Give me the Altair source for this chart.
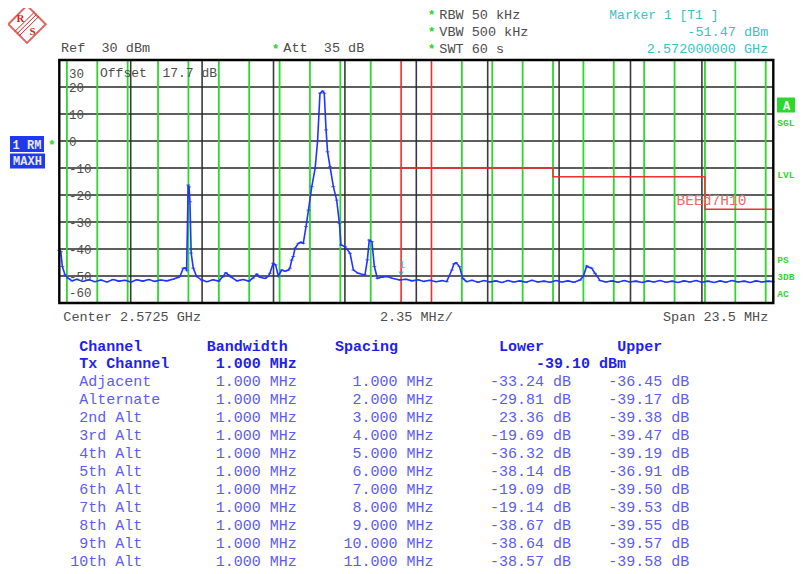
import altair as alt
import pandas as pd

MONO = "Liberation Mono"

# ---------------- data ----------------
trace_mhz = [-11.75, -11.70, -11.65, -11.56, -11.45, -11.33, -11.17, -10.97, -10.77, -10.58,
             -10.38, -10.18, -9.98, -9.79, -9.59, -9.39, -9.20, -9.00, -8.80, -8.61,
             -8.41, -8.21, -8.01, -7.85, -7.78, -7.67, -7.60, -7.56, -7.53, -7.51,
             -7.48, -7.45, -7.41, -7.34, -7.23, -7.06, -6.89, -6.69, -6.50, -6.38,
             -6.27, -6.18, -6.08, -5.90, -5.70, -5.51, -5.38, -5.25, -5.14, -4.98,
             -4.88, -4.82, -4.71, -4.63, -4.54, -4.43, -4.32, -4.21, -4.16, -4.10,
             -4.05, -3.99, -3.88, -3.80, -3.72, -3.63, -3.55, -3.44, -3.33, -3.25,
             -3.17, -3.08, -3.03, -2.97, -2.92, -2.84, -2.73, -2.62, -2.53, -2.48,
             -2.35, -2.18, -2.07, -1.91, -1.69, -1.61, -1.55, -1.46, -1.38, -1.28,
             -1.13, -0.97, -0.76, -0.54, -0.34, -0.14, 0.06, 0.25, 0.45, 0.65,
             0.85, 1.00, 1.17, 1.24, 1.31, 1.42, 1.53, 1.66, 1.83, 2.03,
             2.23, 2.42, 2.62, 2.82, 3.02, 3.21, 3.41, 3.61, 3.81, 4.00,
             4.20, 4.40, 4.60, 4.79, 4.99, 5.19, 5.39, 5.50, 5.61, 5.69,
             5.77, 5.88, 6.05, 6.24, 6.44, 6.64, 6.84, 7.03, 7.23, 7.43,
             7.63, 7.82, 8.02, 8.22, 8.42, 8.61, 8.81, 9.01, 9.21, 9.40,
             9.60, 9.80, 10.00, 10.19, 10.39, 10.59, 10.79, 10.99, 11.18, 11.38,
             11.58, 11.74]
trace_db = [-40.5, -41.0, -46.5, -49.6, -50.9, -51.8, -51.2, -52.0, -51.4, -52.1,
            -51.5, -52.2, -51.3, -51.9, -51.6, -52.2, -51.4, -51.9, -51.3, -52.0,
            -51.5, -51.8, -51.2, -50.6, -50.2, -47.1, -47.0, -47.8, -30.0, -16.3,
            -17.0, -22.5, -41.5, -47.1, -50.2, -51.5, -52.1, -51.4, -51.9, -50.4,
            -48.8, -49.6, -50.5, -51.8, -51.3, -51.9, -50.8, -49.3, -50.5, -50.9,
            -50.2, -49.0, -45.3, -45.9, -50.0, -47.8, -48.2, -47.8, -47.1, -44.1,
            -42.8, -39.7, -37.9, -37.5, -37.9, -31.7, -25.6, -16.9, -10.1, -0.1,
            17.7, 18.5, 17.7, 4.1, -4.0, -9.5, -16.9, -21.9, -30.5, -38.5,
            -39.1, -41.6, -47.8, -49.0, -49.6, -44.0, -36.7, -37.3, -46.5, -50.9,
            -50.4, -50.2, -50.9, -51.5, -51.2, -51.8, -51.4, -52.0, -51.6, -52.1,
            -51.7, -52.1, -47.8, -45.5, -45.1, -46.5, -50.9, -52.1, -51.6, -52.3,
            -51.7, -52.2, -51.8, -52.4, -51.7, -52.2, -51.8, -52.3, -51.6, -52.2,
            -51.9, -52.3, -51.7, -52.2, -51.8, -52.3, -51.5, -50.0, -46.3, -46.8,
            -47.1, -49.0, -51.7, -52.2, -51.8, -52.3, -51.7, -52.2, -51.9, -52.4,
            -51.8, -52.2, -51.7, -52.3, -51.9, -52.4, -51.8, -52.2, -51.7, -52.3,
            -51.9, -52.4, -51.8, -52.3, -51.7, -52.2, -51.9, -52.4, -51.8, -52.2,
            -51.9, -52.1]

grid_mhz = [-9.4, -7.05, -4.7, -2.35, 0.0, 2.35, 4.7, 7.05, 9.4]
grid_db = [20, 10, 0, -10, -20, -30, -40, -50]
channel_edges_mhz = [-11.5, -10.5, -9.5, -8.5, -7.5, -6.5, -5.5, -4.5, -3.5, -2.5, -1.5,
                     1.5, 2.5, 3.5, 4.5, 5.5, 6.5, 7.5, 8.5, 9.5, 10.5, 11.5]
tx_edges_mhz = [-0.5, 0.5]
limit_mhz = [-0.5, 4.5, 4.5, 9.5, 9.5, 11.75]
limit_db = [-10.0, -10.0, -13.2, -13.2, -25.3, -25.3]
marker_mhz = [-0.5]
marker_db = [-51.47]
ytick_labels = ["30", "20", "10", "0", "-10", "-20", "-30", "-40", "-50", "-60"]

channels = ["Adjacent", "Alternate", "2nd Alt", "3rd Alt", "4th Alt", "5th Alt",
            "6th Alt", "7th Alt", "8th Alt", "9th Alt", "10th Alt"]
bandwidths = ["1.000 MHz", "1.000 MHz", "1.000 MHz", "1.000 MHz", "1.000 MHz", "1.000 MHz",
              "1.000 MHz", "1.000 MHz", "1.000 MHz", "1.000 MHz", "1.000 MHz"]
spacings = ["1.000 MHz", "2.000 MHz", "3.000 MHz", "4.000 MHz", "5.000 MHz", "6.000 MHz",
            "7.000 MHz", "8.000 MHz", "9.000 MHz", "10.000 MHz", "11.000 MHz"]
lower = ["-33.24 dB", "-29.81 dB", "23.36 dB", "-19.69 dB", "-36.32 dB", "-38.14 dB",
         "-19.09 dB", "-19.14 dB", "-38.67 dB", "-38.64 dB", "-38.57 dB"]
upper = ["-36.45 dB", "-39.17 dB", "-39.38 dB", "-39.47 dB", "-39.19 dB", "-36.91 dB",
         "-39.50 dB", "-39.53 dB", "-39.55 dB", "-39.57 dB", "-39.58 dB"]

# ---------------- styles / layout ----------------
OFF = 8  # page margin
GRAY = "#4d4d4d"
TEAL = "#3fbfbf"
GREEN = "#2bd82b"
BLUE_BOLD = "#1f1fef"
BLUE_ROW = "#5c5cf2"
TRACE = "#1f35ff"
RED = "#ff2626"
BOXBLUE = "#2038f0"
NB = "\u00a0"

PX_L, PX_R, PX_T, PX_B = 59.3, 773.3, 60.0, 303.0
XS = alt.Scale(domain=[-11.75, 11.75], range=[PX_L - OFF, PX_R - OFF], nice=False, zero=False)
YS = alt.Scale(domain=[-60, 30], range=[PX_B - OFF, PX_T - OFF], nice=False, zero=False)
ONE = alt.Data(values=[{"k": 0}])


def X(field):
    return alt.X(field, type="quantitative", scale=XS, axis=None)


def Y(field):
    return alt.Y(field, type="quantitative", scale=YS, axis=None)


def label(s, x, y, color, size=13.5, weight="normal", align="left", font=MONO):
    return alt.Chart(ONE).mark_text(
        text=s, align=align, baseline="middle", font=font, fontSize=size,
        fontWeight=weight, color=color
    ).encode(x=alt.value(x - OFF), y=alt.value(y - OFF))


def box(x0, y0, x1, y1, color):
    return alt.Chart(ONE).mark_rect(color=color).encode(
        x=alt.value(x0 - OFF), x2=alt.value(x1 - OFF),
        y=alt.value(y0 - OFF), y2=alt.value(y1 - OFF))


def seg(x0, y0, x1, y1, color, w=1.5):
    return alt.Chart(ONE).mark_rule(color=color, strokeWidth=w).encode(
        x=alt.value(x0 - OFF), x2=alt.value(x1 - OFF),
        y=alt.value(y0 - OFF), y2=alt.value(y1 - OFF))


layers = []

# vertical grid
layers.append(alt.Chart(pd.DataFrame({"f": grid_mhz})).mark_rule(color="#3a3a3a", strokeWidth=1.6).encode(
    x=X("f"), y=alt.value(PX_T - OFF), y2=alt.value(PX_B - OFF)))
# horizontal grid
layers.append(alt.Chart(pd.DataFrame({"d": grid_db})).mark_rule(color="#2a2a2a", strokeWidth=1.6).encode(
    y=Y("d"), x=alt.value(PX_L - OFF), x2=alt.value(PX_R - OFF)))
# channel edges
layers.append(alt.Chart(pd.DataFrame({"f": channel_edges_mhz})).mark_rule(color=GREEN, strokeWidth=1.8).encode(
    x=X("f"), y=alt.value(PX_T - OFF), y2=alt.value(PX_B - OFF + 1)))
layers.append(alt.Chart(pd.DataFrame({"f": tx_edges_mhz})).mark_rule(color=RED, strokeWidth=1.6).encode(
    x=X("f"), y=alt.value(PX_T - OFF), y2=alt.value(PX_B - OFF + 1)))
# limit line
lim = pd.DataFrame({"f": limit_mhz, "d": limit_db, "i": list(range(len(limit_mhz)))})
layers.append(alt.Chart(lim).mark_line(color="#ee3030", strokeWidth=1.5, interpolate="linear").encode(
    x=X("f"), y=Y("d"), order="i:Q"))
# trace
tr = pd.DataFrame({"f": trace_mhz, "d": trace_db})
layers.append(alt.Chart(tr).mark_line(color=TRACE, strokeWidth=1.6).encode(x=X("f"), y=Y("d")))
layers.append(alt.Chart(tr).mark_tick(color=TRACE, orient="horizontal", size=4, thickness=1).encode(
    x=X("f"), y=Y("d")))
# marker
mk = pd.DataFrame({"f": marker_mhz, "d": marker_db})
layers.append(alt.Chart(mk).mark_point(shape="triangle-down", filled=True, color="#2aa0a0", size=30, yOffset=-6).encode(
    x=X("f"), y=Y("d")))
layers.append(alt.Chart(mk).mark_text(text="1", color=TEAL, font=MONO, fontSize=11, dy=-15, dx=1).encode(
    x=X("f"), y=Y("d")))

# frame
layers.append(alt.Chart(ONE).mark_rect(fillOpacity=0, stroke="black", strokeWidth=2.4).encode(
    x=alt.value(PX_L - OFF), x2=alt.value(PX_R - OFF), y=alt.value(PX_T - OFF), y2=alt.value(PX_B - OFF)))

# limit label
layers.append(label("BEEd7H10", 676.5, 201, "#f06a6a", size=14.6))

# y tick labels inside plot
for lab in ytick_labels:
    v = float(lab)
    if v == 30:
        yy = 73.5
    elif v == -60:
        yy = 292.5
    else:
        yy = PX_T + (30 - v) * 2.7 + 1
    layers.append(label(lab, 69, yy, GRAY, size=12.5))
layers.append(label("Offset" + NB + NB + "17.7 dB", 100, 72.5, GRAY, size=13))

# header texts
layers.append(label("Ref" + NB + NB + "30 dBm", 61, 48, GRAY))
layers.append(label("*", 275.7, 49, GREEN, size=13, weight="bold", align="center"))
layers.append(label("Att" + NB + NB + "35 dB", 283.3, 48, GRAY))
for yy, s in [(14.5, "RBW 50 kHz"), (31.5, "VBW 500 kHz"), (48.5, "SWT 60 s")]:
    layers.append(label("*", 431.7, yy + 0.5, GREEN, size=13, weight="bold", align="center"))
    layers.append(label(s, 439.3, yy, GRAY))
layers.append(label("Marker 1 [T1 ]", 609.3, 14.5, TEAL, size=13))
layers.append(label("-51.47 dBm", 768.3, 31.5, TEAL, align="right"))
layers.append(label("2.572000000 GHz", 768.3, 48.5, TEAL, align="right"))

# R&S logo
layers.append(alt.Chart(ONE).mark_point(shape="diamond", size=1400, filled=False, color="#d42424", strokeWidth=2).encode(
    x=alt.value(27 - OFF), y=alt.value(24.2 - OFF)))
for d in (-2.2, 0.0, 2.2):
    layers.append(seg(17 + d, 33.7 + d, 36.7 + d, 14.2 + d, "#d42424", 1))
layers.append(label("R", 20.5, 18.5, "#d42424", size=11, weight="bold", font="Liberation Serif", align="center"))
layers.append(label("S", 32.5, 31.5, "#d42424", size=11, weight="bold", font="Liberation Serif", align="center"))

# left boxes
layers.append(box(10, 136, 44, 152, BOXBLUE))
layers.append(label("1 RM", 27, 144.5, "#e8e8ff", size=12, weight="bold", align="center"))
layers.append(box(10, 153.5, 45, 168.5, BOXBLUE))
layers.append(label("MAXH", 27.5, 161, "#e8e8ff", size=12, weight="bold", align="center"))
layers.append(label("*", 52, 144.5, GREEN, size=13, weight="bold", align="center"))

# right panel (page is 795 px wide at most, so keep within it)
layers.append(box(777, 97.5, 802, 112.5, GREEN))
layers.append(label("A", 786.5, 105.5, "white", size=12, weight="bold", align="center"))
for yy, s in [(122.7, "SGL"), (175, "LVL"), (260, "PS"), (277, "3DB"), (293.5, "AC")]:
    layers.append(label(s, 777.3, yy, GREEN, size=9.5, weight="bold"))

# bottom axis texts
layers.append(label("Center 2.5725 GHz", 63.3, 316.7, GRAY))
layers.append(label("2.35 MHz/", 380, 316.7, GRAY))
layers.append(label("Span 23.5 MHz", 768.3, 316.7, GRAY, align="right"))

# table
TS = 15
layers.append(label("Channel", 79.3, 345.7, BLUE_BOLD, size=TS, weight="bold"))
layers.append(label("Bandwidth", 206.7, 345.7, BLUE_BOLD, size=TS, weight="bold"))
layers.append(label("Spacing", 335, 345.7, BLUE_BOLD, size=TS, weight="bold"))
layers.append(label("Lower", 499, 345.7, BLUE_BOLD, size=TS, weight="bold"))
layers.append(label("Upper", 617.3, 345.7, BLUE_BOLD, size=TS, weight="bold"))
layers.append(label("Tx Channel", 79.3, 363.3, BLUE_BOLD, size=TS, weight="bold"))
layers.append(label("1.000 MHz", 296.7, 363.3, BLUE_BOLD, size=TS, weight="bold", align="right"))
layers.append(label("-39.10 dBm", 536, 363.3, BLUE_BOLD, size=TS, weight="bold"))
CW = 9.0
for i, name in enumerate(channels):
    yy = 380.7 + 18.05 * i
    nx = 79.3
    if name.endswith("Alt"):
        nx = 79.3 - CW * (len(name.split()[0]) - 3)
    layers.append(label(name, nx, yy, BLUE_ROW, size=TS))
    layers.append(label(bandwidths[i], 296.7, yy, BLUE_ROW, size=TS, align="right"))
    layers.append(label(spacings[i], 433.5, yy, BLUE_ROW, size=TS, align="right"))
    layers.append(label(lower[i], 571, yy, BLUE_ROW, size=TS, align="right"))
    layers.append(label(upper[i], 689.3, yy, BLUE_ROW, size=TS, align="right"))

chart = alt.layer(*layers).properties(
    width=787, height=566, padding=0,
    autosize=alt.AutoSizeParams(type="none"),
    background="white",
).configure_view(stroke=None)

chart.save("out.html", embed_options={"renderer": "svg", "actions": False})
